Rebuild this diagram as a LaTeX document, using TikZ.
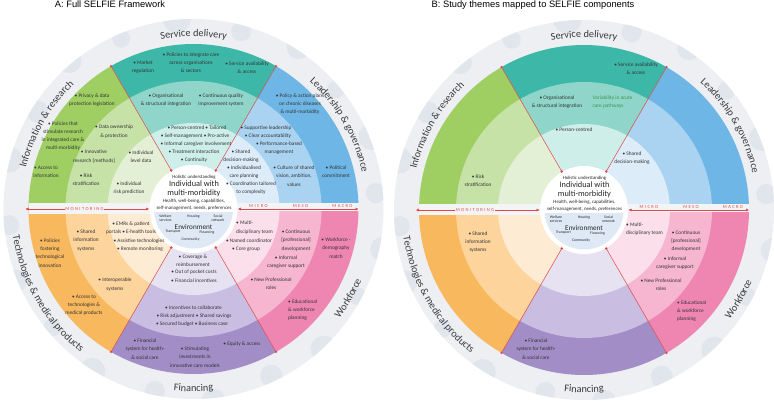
\documentclass[tikz,border=0pt]{standalone}
\usepackage{fontspec}
\setmainfont{Carlito}
\newfontfamily\titlefont{Liberation Sans}
\newfontfamily\spacedfont[LetterSpace=30]{Carlito}
\usetikzlibrary{arrows.meta,decorations.text}

\definecolor{ringgrey}{HTML}{EDEFF3}
\definecolor{bubble}{HTML}{E1E5EC}
\definecolor{bandcol}{HTML}{F3F4F6}
\definecolor{gM}{HTML}{9FCE62}\definecolor{gS}{HTML}{C7E2A7}\definecolor{gI}{HTML}{E4F0D6}
\definecolor{tM}{HTML}{3DB8A8}\definecolor{tS}{HTML}{8FD5CA}\definecolor{tI}{HTML}{CEEEEA}
\definecolor{bM}{HTML}{6DB6E6}\definecolor{bS}{HTML}{A9D3F1}\definecolor{bI}{HTML}{DCECF9}
\definecolor{oM}{HTML}{F8B85E}\definecolor{oS}{HTML}{FCD49C}\definecolor{oI}{HTML}{FDEBD3}
\definecolor{pM}{HTML}{A28DC7}\definecolor{pS}{HTML}{C9BEE2}\definecolor{pI}{HTML}{E7E2F2}
\definecolor{kM}{HTML}{EF86B2}\definecolor{kS}{HTML}{F6B6D0}\definecolor{kI}{HTML}{FBDFEB}
\definecolor{envblue}{HTML}{DFE9F6}
\definecolor{redline}{HTML}{E04848}
\definecolor{itemtext}{HTML}{333333}
\definecolor{ringtxt}{HTML}{3A3A3A}
\definecolor{vargreen}{HTML}{3A9A48}

\newcommand\ringfont{\fontsize{10.3}{12}\selectfont\color{ringtxt}}
\newcommand\pie[4]{\fill[#4] (0,0) -- (#1:#3) arc[start angle=#1, end angle=#2, radius=#3] -- cycle;}

\tikzset{
  itm/.style={font=\fontsize{5.3}{8.2}\selectfont, align=center, inner sep=0pt, text=itemtext},
  ctr/.style={inner sep=0pt, align=center, text=black!85},
  title/.style={font=\titlefont\fontsize{9.3}{11}\selectfont, inner sep=0pt},
  divline/.style={draw=redline, line width=0.5pt},
  redarrow/.style={draw=redline, line width=0.5pt, {Triangle[length=3pt,width=2.6pt]}-{Triangle[length=3pt,width=2.6pt]}},
  lvl/.style={inner sep=0.8pt, text=redline, font=\fontsize{4.6}{5}\spacedfont},
  ringlabel/.style={decorate, decoration={text along path, text align=center, text={|\ringfont|#1}}}
}

\newcommand\selfiebase[1]{%
  \fill[ringgrey] (0,0) circle (190);
  \begin{scope}
    \clip (0,0) circle (190);
    \foreach \a/\r/\s in {5/183/10, 22/192/13, 40/186/9, 57/193/12, 75/184/10, 95/191/14, 113/185/9, 130/193/12, 148/184/11, 165/191/13, 185/185/10, 202/193/12, 220/184/9, 238/191/13, 258/186/10, 276/193/12, 295/184/11, 313/191/13, 332/185/9, 348/193/12}
      \fill[bubble] (\a:\r) circle (\s);
  \end{scope}
  % macro ring
  \pie{0}{60}{165}{bM}\pie{60}{120}{165}{tM}\pie{120}{180}{165}{gM}
  \pie{180}{240}{165}{oM}\pie{240}{300}{165}{pM}\pie{300}{360}{165}{kM}
  % meso ring
  \pie{0}{60}{128}{bS}\pie{60}{120}{128}{tS}\pie{120}{180}{128}{gS}
  \pie{180}{240}{128}{oS}\pie{240}{300}{128}{pS}\pie{300}{360}{128}{kS}
  % micro ring
  \pie{0}{60}{86}{bI}\pie{60}{120}{86}{tI}\pie{120}{180}{86}{gI}
  \pie{180}{240}{86}{oI}\pie{240}{300}{86}{pI}\pie{300}{360}{86}{kI}
  % bands
  \fill[bandcol] (-165,-5) rectangle (-42,6);
  \fill[bandcol] (42,-1.5) rectangle (165,6);
  % centre
  \fill[white] (0,0) circle (44);
  \begin{scope}
    \clip (0,0) circle (39.5);
    \fill[envblue] (-45,-2.5) rectangle (45,-45);
  \end{scope}
  % dividers
  \foreach \a in {60,120,240,300} {
    \draw[divline] (\a:44.5) -- (\a:165);
    \fill[redline] (\a:44.5) circle (1.3) (\a:165) circle (1.3);
  }
  % arrows
  \coordinate (#1mL) at (-168,0); \coordinate (#1mR) at (-44.5,0);
  \coordinate (#1aL) at (44.5,0); \coordinate (#1aR) at (165,0);
  \draw[redarrow] (#1mL) -- (#1mR);
  \draw[redarrow] (#1aL) -- (#1aR);
  \node[lvl, fill=bandcol] (#1mon) at (-109,0) {MONITORING};
  \node[lvl] (#1micro) at (65,3.3) {MICRO};
  \node[lvl] (#1meso) at (107,3.3) {MESO};
  \node[lvl] (#1macro) at (149,3.3) {MACRO};
  % centre text
  \node[ctr, font=\fontsize{4.8}{5}\selectfont] (#1hol) at (0.5,31.3) {Holistic understanding};
  \node[ctr, font=\fontsize{8.3}{9.3}\selectfont] (#1ind) at (0.5,20.5) {Individual with\\multi-morbidity};
  \node[ctr, font=\fontsize{4.9}{7}\selectfont] (#1hea) at (0.5,3.8) {Health, well-being, capabilities,\\self-management, needs, preferences};
  \node[ctr, font=\fontsize{3.8}{3.9}\selectfont] (#1wel) at (-28,-9) {Welfare\\services};
  \node[ctr, font=\fontsize{3.8}{3.9}\selectfont] (#1hou) at (0,-7.7) {Housing};
  \node[ctr, font=\fontsize{3.8}{3.9}\selectfont] (#1soc) at (24.5,-9) {Social\\network};
  \node[ctr, font=\fontsize{7.2}{8}\selectfont] (#1env) at (0,-18.3) {Environment};
  \node[ctr, font=\fontsize{3.8}{3.9}\selectfont] (#1tra) at (-20.5,-23) {Transport};
  \node[ctr, font=\fontsize{3.8}{3.9}\selectfont] (#1fin) at (13.5,-23.7) {Financing};
  \node[ctr, font=\fontsize{3.8}{3.9}\selectfont] (#1com) at (-3,-30.3) {Community};
  % ring labels
  \path[ringlabel={Service delivery}] (130:172.5) arc[start angle=130, end angle=50, radius=172.5];
  \path[ringlabel={Information {\&} research}] (195:172.5) arc[start angle=195, end angle=105, radius=172.5];
  \path[ringlabel={Leadership {\&} governance}] (75:172.5) arc[start angle=75, end angle=-15, radius=172.5];
  \path[ringlabel={Financing}] (230:182.5) arc[start angle=230, end angle=310, radius=182.5];
  \path[ringlabel={Technologies {\&} medical products}] (160:182.5) arc[start angle=160, end angle=260, radius=182.5];
  \path[ringlabel={Workforce}] (290:182.5) arc[start angle=290, end angle=370, radius=182.5];
}

\begin{document}
\begin{tikzpicture}[x=1pt,y=-1pt]
\useasboundingbox (0,0) rectangle (774,402);
\fill[white] (0,0) rectangle (774,402);
\node[title, anchor=base] (tA) at (110,7.5) {A: Full SELFIE Framework};
\node[title, anchor=base] (tB) at (533,7.5) {B: Study themes mapped to SELFIE components};

\begin{scope}[shift={(193.5,209)}, y=1pt]\selfiebase{A}\end{scope}
\begin{scope}[shift={(584,210)}, y=1pt]\selfiebase{B}\end{scope}

% ---------- A items
\node[itm] (L1) at (143,67) {• Market\\regulation};
\node[itm] (L2) at (191,62.7) {• Policies to integrate care\\across organisations\\\& sectors};
\node[itm] (L3) at (247,67.5) {• Service availability\\\& access};
\node[itm] (L4) at (166,100) {• Organisational\\\& structural integration};
\node[itm] (L5) at (221,100) {• Continuous quality\\improvement system};
\node[itm] (L6) at (197,128) {• Person-centred • Tailored};
\node[itm] (L7) at (195,136) {• Self-management • Pro-active};
\node[itm] (L8) at (196,144) {• Informal caregiver involvement};
\node[itm] (L9) at (194,152) {• Treatment interaction};
\node[itm] (L10) at (194,160) {• Continuity};
\node[itm] (L11) at (92,100) {• Privacy \& data\\protection legislation};
\node[itm] (L12) at (63,136) {• Policies that\\stimulate research\\in integrated care \&\\multi-morbidity};
\node[itm] (L13) at (46,171.5) {• Access to\\information};
\node[itm] (L14) at (114,131.5) {• Data ownership\\\& protection};
\node[itm] (L15) at (94,156.5) {• Innovative\\research [methods]};
\node[itm] (L16) at (86,180) {• Risk\\stratification};
\node[itm] (L17) at (141,156.5) {• Individual\\level data};
\node[itm] (L18) at (129,188) {• Individual\\risk prediction};
\node[itm] (L19) at (300,104) {• Policy \& action plans\\on chronic diseases\\\& multi-morbidity};
\node[itm] (L20) at (336,172) {• Political\\commitment};
\node[itm] (L21) at (266,128) {• Supportive leadership};
\node[itm] (L22) at (268,136) {• Clear accountability};
\node[itm] (L23) at (279,148) {• Performance-based\\management};
\node[itm] (L24) at (294,176) {• Culture of shared\\vision, ambition,\\values};
\node[itm] (L25) at (241,156) {• Shared\\decision-making};
\node[itm] (L26) at (244,172) {• Individualised\\care planning};
\node[itm] (L27) at (251,188) {• Coordination tailored\\to complexity};
\node[itm] (L28) at (50,253) {• Policies\\fostering\\technological\\innovation};
\node[itm] (L29) at (84,305) {• Access to\\technologies \&\\medical products};
\node[itm] (L30) at (86,240.5) {• Shared\\information\\systems};
\node[itm] (L31) at (115,284.5) {• Interoperable\\systems};
\node[itm] (L32) at (131,228) {• EMRs \& patient\\portals • E-health tools};
\node[itm] (L33) at (139,241) {• Assistive technologies};
\node[itm] (L34) at (140,249) {• Remote monitoring};
\node[itm] (L35) at (193,260.5) {• Coverage \&\\reimbursement};
\node[itm] (L36) at (194,272.5) {• Out of pocket costs};
\node[itm] (L37) at (194,280.5) {• Financial incentives};
\node[itm] (L38) at (193.5,307.7) {• Incentives to collaborate};
\node[itm] (L39) at (194,315.7) {• Risk adjustment • Shared savings};
\node[itm] (L40) at (192,323.7) {• Secured budget • Business case};
\node[itm] (L41) at (145,349) {• Financial\\system for health-\\\& social care};
\node[itm] (L42) at (195,357) {• Stimulating\\investments in\\innovative care models};
\node[itm] (L43) at (242,344) {• Equity \& access};
\node[itm, anchor=west, align=left] (L44) at (236,227.5) {• Multi-\\disciplinary team};
\node[itm] (L45) at (249,241) {• Named coordinator};
\node[itm] (L46) at (246,249) {• Core group};
\node[itm] (L47) at (296,240.5) {• Continuous\\{[professional]}\\development};
\node[itm] (L48) at (286,262) {• Informal\\caregiver support};
\node[itm] (L49) at (271,284) {• New Professional\\roles};
\node[itm] (L50) at (336,248) {• Workforce -\\demography\\match};
\node[itm, anchor=west, align=left] (L51) at (288,310) {• Educational\\\& workforce\\planning};

% ---------- B items
\node[itm] (R1) at (636,69) {• Service availability\\\& access};
\node[itm] (R2) at (557,102) {• Organisational\\\& structural integration};
\node[itm, anchor=west, align=left, text=vargreen] (R3) at (592.5,102) {Variability in acute\\care pathways};
\node[itm] (R4) at (574,130) {• Person-centred};
\node[itm] (R5) at (478,181) {• Risk\\stratification};
\node[itm] (R6) at (632,158) {• Shared\\decision-making};
\node[itm] (R7) at (478,242) {• Shared\\information\\systems};
\node[itm] (R8) at (536,349) {• Financial\\system for health-\\\& social care};
\node[itm, anchor=west, align=left] (R9) at (626,229) {• Multi-\\disciplinary team};
\node[itm] (R10) at (686,241) {• Continuous\\{[professional]}\\development};
\node[itm] (R11) at (675,263.5) {• Informal\\caregiver support};
\node[itm] (R12) at (661,285) {• New Professional\\roles};
\node[itm, anchor=west, align=left] (R13) at (677,311) {• Educational\\\& workforce\\planning};
\end{tikzpicture}
\end{document}
